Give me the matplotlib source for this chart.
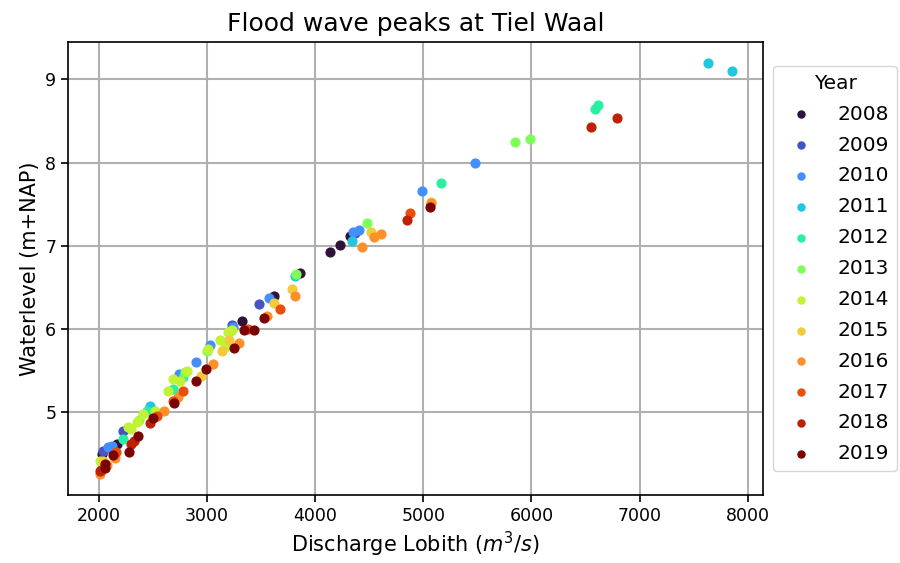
import matplotlib
matplotlib.use('Agg')
import matplotlib.pyplot as plt
import numpy as np

# Flood wave peaks per year: discharge at Lobith (m3/s) and waterlevel at Tiel (m+NAP)
years = [2008, 2009, 2010, 2011, 2012, 2013, 2014, 2015, 2016, 2017, 2018, 2019]

discharge = {
    2008: [4227, 4135, 4320, 3858, 3617, 3322, 2166, 2028],
    2009: [3479, 3229, 2222, 2037, 2100, 4370],
    2010: [5475, 4985, 4403, 4348, 3571, 3026, 2897, 2739, 2083, 2120, 3240, 2470],
    2011: [7630, 7850, 4338, 3811, 2471],
    2012: [6612, 6584, 5161, 2444, 2222, 2684, 2780, 3210],
    2013: [5845, 5983, 4477, 3821, 2998, 2800, 2370],
    2014: [3192, 3229, 3118, 3164, 3007, 2813, 2684, 2749, 2638, 2517, 2407,
           2351, 2268, 2009, 2300],
    2015: [4514, 3784, 3617, 3201, 3137, 2943, 2037, 5070],
    2016: [5068, 4606, 4542, 4431, 3811, 3553, 3294, 3053, 2730, 2600, 2009,
           2148, 2080],
    2017: [4874, 3673, 3377, 2776, 2684, 2536, 2160, 2020],
    2018: [6547, 6787, 4846, 2471, 2323, 2009, 2300],
    2019: [5059, 3525, 3340, 3433, 3248, 2989, 2897, 2693, 2499, 2360, 2277,
           2055, 2130, 2060],
}

waterlevel = {
    2008: [7.01, 6.93, 7.12, 6.67, 6.39, 6.10, 4.61, 4.49],
    2009: [6.30, 6.04, 4.77, 4.53, 4.57, 7.15],
    2010: [7.99, 7.66, 7.19, 7.17, 6.37, 5.80, 5.60, 5.46, 4.58, 4.59, 6.02, 5.06],
    2011: [9.20, 9.10, 7.06, 6.64, 5.07],
    2012: [8.69, 8.64, 7.75, 5.01, 4.68, 5.28, 5.42, 5.97],
    2013: [8.25, 8.28, 7.27, 6.66, 5.73, 5.48, 4.90],
    2014: [5.96, 5.98, 5.86, 5.78, 5.76, 5.49, 5.40, 5.37, 5.25, 5.01, 4.98,
           4.88, 4.82, 4.41, 4.80],
    2015: [7.17, 6.48, 6.31, 5.86, 5.73, 5.43, 4.41, 7.52],
    2016: [7.51, 7.14, 7.10, 6.99, 6.40, 6.16, 5.83, 5.58, 5.18, 5.01, 4.25,
           4.45, 4.36],
    2017: [7.39, 6.24, 6.00, 5.25, 5.13, 4.95, 4.52, 4.30],
    2018: [8.43, 8.53, 7.31, 4.87, 4.65, 4.29, 4.62],
    2019: [7.47, 6.13, 5.98, 5.99, 5.77, 5.52, 5.37, 5.11, 4.93, 4.71, 4.52,
           4.37, 4.48, 4.33],
}

colors = plt.cm.turbo(np.linspace(0, 1, len(years)))

fig = plt.figure(figsize=(9, 5.63), dpi=100)
ax = fig.add_axes([0.0756, 0.121, 0.7724, 0.804])

for year, color in zip(years, colors):
    ax.scatter(discharge[year], waterlevel[year], s=40, color=color,
               label=str(year), zorder=3)

ax.grid(True, color='#b0b0b0', linewidth=1.5, zorder=0)
ax.set_axisbelow(True)
for spine in ax.spines.values():
    spine.set_linewidth(1.2)

ax.set_title('Flood wave peaks at Tiel Waal', fontsize=18, pad=8)
ax.set_xlabel('Discharge Lobith ($m^3/s$)', fontsize=15)
ax.set_ylabel('Waterlevel (m+NAP)', fontsize=15)
ax.tick_params(labelsize=12.5, width=1.2, length=5)
ax.set_yticks([5, 6, 7, 8, 9])

ax.legend(title='Year', loc='center left', bbox_to_anchor=(1, 0.5),
          fontsize=14.5, title_fontsize=14.5, markerscale=0.8,
          labelspacing=0.59, handletextpad=0.8)

fig.savefig('out.png', dpi=100)
